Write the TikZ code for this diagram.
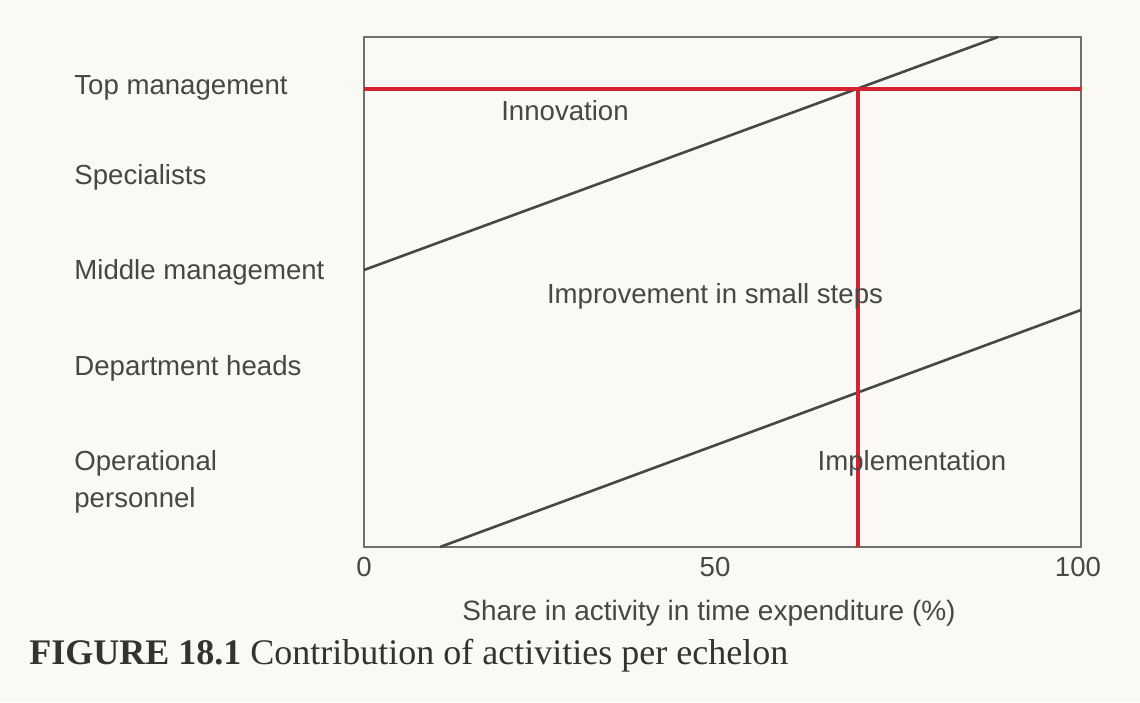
\documentclass[tikz,border=0pt]{standalone}
\usepackage{fontspec}
\setmainfont{Liberation Serif}
\setsansfont{Liberation Sans}
\definecolor{scan}{HTML}{FAF9F4}
\definecolor{ink}{HTML}{474747}
\definecolor{frame}{HTML}{6E6E6E}
\definecolor{markred}{HTML}{D2232F}
\tikzstyle{echelon}=[anchor=west,inner sep=0pt,text=ink,align=left,font=\sffamily\fontsize{13.8}{18.5}\selectfont]
\tikzstyle{activity}=[inner sep=0pt,text=ink,font=\sffamily\fontsize{13.8}{16}\selectfont]
\tikzstyle{frameline}=[draw=frame,line width=0.85pt]
\tikzstyle{trend}=[draw=black!72,line width=1.3pt]
\tikzstyle{level}=[draw=markred,line width=1.6pt]

\begin{document}
\begin{tikzpicture}[x=0.5pt,y=-0.5pt]
\fill[scan] (0,0) rectangle (1140,702);
\useasboundingbox (0,0) rectangle (1140,702);
% plot area
\coordinate (o) at (364,547);
\coordinate (tr) at (1081,37);
\draw[frameline] (o) rectangle (tr);
% activity boundaries
\coordinate (innoL) at (364,270);
\coordinate (innoR) at (998,37);
\coordinate (implL) at (440,547);
\coordinate (implR) at (1081,310);
\draw[trend] (innoL) -- (innoR);
\draw[trend] (implL) -- (implR);
% top management
\coordinate (topL) at (364,89);
\coordinate (topR) at (1081,89);
\coordinate (peak) at (858,89);
\draw[level] (topL) -- (topR);
\draw[level] (peak) -- (peak |- o);
% echelons
\node[echelon] (top) at (74,88) {Top management};
\node[echelon] (spec) at (74,177) {Specialists};
\node[echelon] (mid) at (74,272) {Middle management};
\node[echelon] (dept) at (74,368) {Department heads};
\node[echelon] (oper) at (74,482) {Operational\\personnel};
% activities
\node[activity] (inno) at (565,111) {Innovation};
\node[activity] (impr) at (715,296) {Improvement in small steps};
\node[activity] (impl) at (912,463) {Implementation};
% scale
\node[activity] (t0) at (364,567) {0};
\node[activity] (t50) at (715,567) {50};
\node[activity] (t100) at (1078,567) {100};
\node[activity,font=\sffamily\fontsize{14}{16}\selectfont] (xlabel) at (709,613) {Share in activity in time expenditure (\%)};
\node[anchor=base west,inner sep=0pt,text=black!80,font=\fontsize{18}{20}\selectfont] (caption) at (29,664)
  {\textbf{FIGURE 18.1} Contribution of activities per echelon};
\end{tikzpicture}
\end{document}
